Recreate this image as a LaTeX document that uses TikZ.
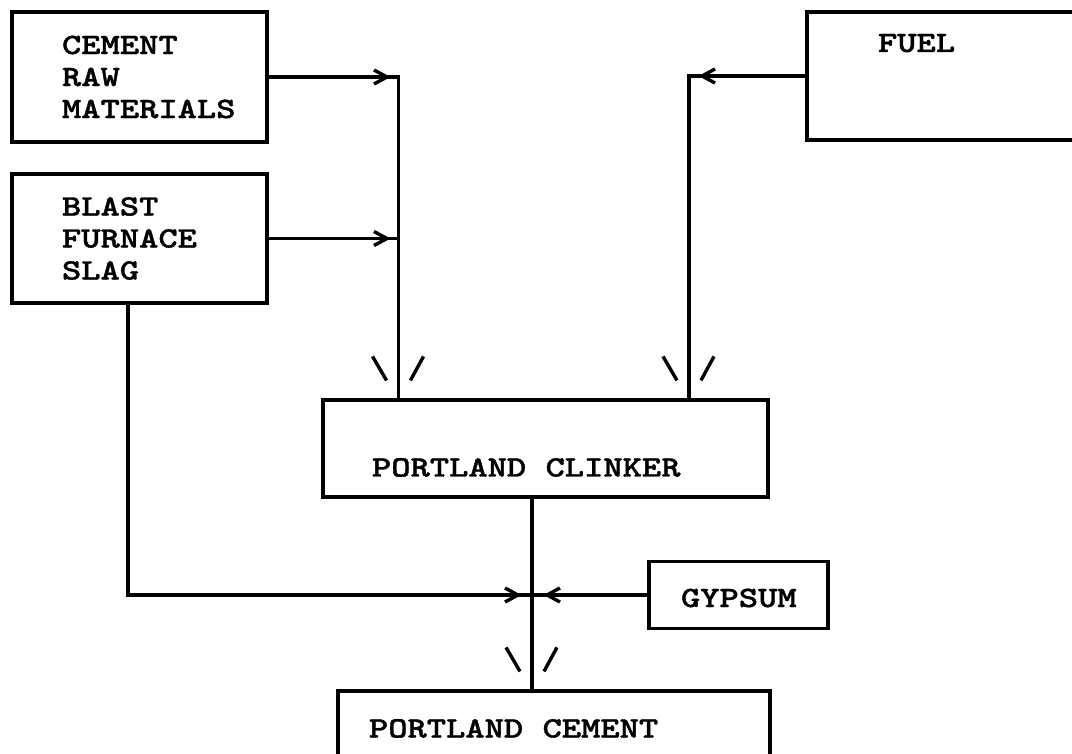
\documentclass[tikz,border=0pt]{standalone}
\usepackage{fontspec}
\newfontfamily\twfont[Extension=.otf,FakeStretch=1.245,FakeBold=1.2]{lmmonolt10-bold}
\newcommand\twsp{\hspace*{19.3pt}}
\begin{document}
\begin{tikzpicture}[x=1pt,y=-1pt,line width=3.4pt,
  box/.style={draw,line width=3.2pt,rectangle,inner ysep=0pt,
    font=\twfont\fontsize{29.5}{32}\selectfont,align=left},
  rchev/.pic={\draw (-13,-7) -- (0,0) -- (-13,7);},
  lchev/.pic={\draw (13,-7) -- (0,0) -- (13,7);},
  vmark/.pic={\draw (-26,-42) -- (-12,-18); \draw (25,-42) -- (12,-18);}]
\useasboundingbox (0,0) rectangle (1072,754);
\clip (0,0) rectangle (1072,754);
\fill[white] (0,0) rectangle (1072,754);

\node[box,text width=155pt,inner xsep=50pt,minimum height=130pt] (raw) at (139.5,77)
  {CEMENT\\RAW\\MATERIALS};
\node[box,text width=155pt,inner xsep=50pt,minimum height=129pt] (blast) at (139.5,238.5)
  {BLAST\\FURNACE\\SLAG};
\node[box,text width=171pt,inner xsep=71pt,minimum height=128pt] (fuel) at (963.5,76)
  {\raisebox{24pt}[0pt][0pt]{FUEL}};
\node[box,text width=347pt,inner xsep=49pt,minimum height=97pt] (clinker) at (545.5,448.5)
  {\raisebox{-28pt}[0pt][0pt]{PORTLAND\twsp CLINKER}};
\node[box,text width=115pt,inner xsep=32pt,minimum height=67pt,align=center] (gypsum) at (738.5,595)
  {\raisebox{-12pt}[0pt][0pt]{GYPSUM}};
\node[box,text width=370pt,inner xsep=31pt,minimum height=80pt] (cement) at (554,731)
  {\raisebox{-6.5pt}[0pt][0pt]{PORTLAND\twsp CEMENT}};

\coordinate (jl) at (398.5,77);
\coordinate (jr) at (689,76);
\coordinate (jc) at (532,595);
\coordinate (sl) at (128,595);

\draw (raw.east) -- (jl) -- (jl |- clinker.north);
\draw (blast.east) -- (blast.east -| jl);
\draw (fuel.west) -- (jr) -- (jr |- clinker.north);
\draw (sl |- blast.south) -- (sl) -- (jc);
\draw (gypsum.west) -- (jc);
\draw (jc |- clinker.south) -- (jc |- cement.north);

\pic at (387,77) {rchev};
\pic at (387,238.5) {rchev};
\pic at (702,76) {lchev};
\pic at (518,595) {rchev};
\pic at (547,595) {lchev};

\pic at (jl |- clinker.north) {vmark};
\pic at (jr |- clinker.north) {vmark};
\pic at (jc |- cement.north) {vmark};
\end{tikzpicture}
\end{document}
